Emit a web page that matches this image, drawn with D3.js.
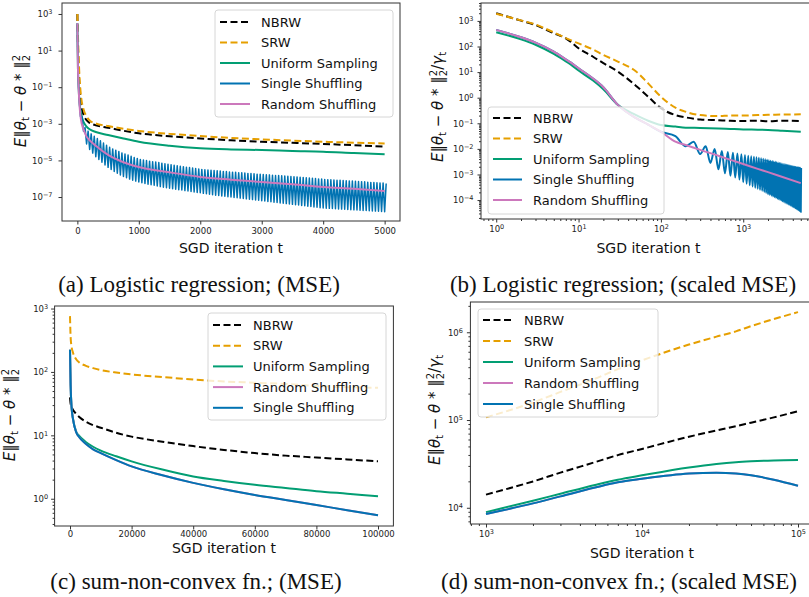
<!DOCTYPE html>
<html><head><meta charset="utf-8">
<script src="https://cdnjs.cloudflare.com/ajax/libs/d3/7.8.5/d3.min.js"></script>
<style>body{margin:0;background:#fff}svg{display:block}</style>
</head><body>
<svg id="c" width="809" height="597"></svg>
<script>
// ---------- DATA (values are log10 of the plotted quantity) ----------
const seriesNames = ["NBRW","SRW","Uniform Sampling","Single Shuffling","Random Shuffling"];
const captions = ["(a) Logistic regression; (MSE)","(b) Logistic regression; (scaled MSE)","(c) sum-non-convex fn.; (MSE)","(d) sum-non-convex fn.; (scaled MSE)"];

// (a) logistic regression, MSE
const tA    = [0,5,10,20,40,60,100,150,200,300,500,750,1000,1500,2000,2500,3000,3500,4000,4500,5000];
const nbrwA = [3.0,2.0,1.2,0.0,-1.2,-1.9,-2.5,-2.8,-2.95,-3.08,-3.21,-3.38,-3.52,-3.68,-3.8,-3.9,-3.98,-4.04,-4.1,-4.17,-4.25];
const srwA  = [3.0,2.4,1.8,0.7,-0.7,-1.5,-2.2,-2.6,-2.82,-2.98,-3.12,-3.27,-3.39,-3.55,-3.67,-3.77,-3.85,-3.92,-3.98,-4.03,-4.07];
const usA   = [2.5,1.0,0.0,-1.0,-2.0,-2.45,-2.9,-3.15,-3.3,-3.45,-3.61,-3.8,-3.98,-4.2,-4.34,-4.4,-4.43,-4.48,-4.52,-4.6,-4.67];
const rsA   = [2.5,1.0,0.0,-1.0,-2.2,-2.8,-3.3,-3.7,-3.9,-4.2,-4.7,-5.1,-5.36,-5.65,-5.9,-6.05,-6.18,-6.3,-6.45,-6.55,-6.67];
const epochA = 50;
const ssHiA = [-2.6,-3.2,-3.4,-3.55,-3.68,-3.8,-3.93,-4.05,-4.17,-4.28,
  -4.37,-4.44,-4.51,-4.59,-4.65,-4.71,-4.77,-4.84,-4.89,-4.95,
  -4.98,-5.01,-5.04,-5.07,-5.09,-5.12,-5.15,-5.18,-5.21,-5.24,
  -5.27,-5.29,-5.32,-5.34,-5.37,-5.39,-5.42,-5.44,-5.47,-5.49,
  -5.51,-5.52,-5.54,-5.55,-5.57,-5.58,-5.6,-5.61,-5.63,-5.64,
  -5.65,-5.67,-5.68,-5.69,-5.71,-5.72,-5.73,-5.75,-5.76,-5.77,
  -5.78,-5.79,-5.81,-5.82,-5.83,-5.84,-5.85,-5.87,-5.88,-5.89,
  -5.9,-5.92,-5.93,-5.95,-5.96,-5.98,-5.99,-6.01,-6.02,-6.04,
  -6.05,-6.06,-6.07,-6.08,-6.09,-6.1,-6.11,-6.12,-6.13,-6.14,
  -6.15,-6.16,-6.17,-6.19,-6.2,-6.21,-6.22,-6.23,-6.24,-6.26];
const ssLoA = [-2.6,-3.4,-4.1,-4.4,-4.6,-4.8,-4.95,-5.1,-5.25,-5.38,
  -5.5,-5.6,-5.7,-5.8,-5.88,-5.95,-6.02,-6.08,-6.13,-6.18,
  -6.22,-6.26,-6.3,-6.33,-6.36,-6.4,-6.43,-6.46,-6.49,-6.52,
  -6.55,-6.57,-6.6,-6.62,-6.65,-6.67,-6.7,-6.72,-6.75,-6.77,
  -6.8,-6.82,-6.85,-6.87,-6.9,-6.92,-6.94,-6.96,-6.98,-7.0,
  -7.02,-7.04,-7.06,-7.08,-7.1,-7.12,-7.14,-7.16,-7.18,-7.2,
  -7.22,-7.24,-7.26,-7.28,-7.3,-7.32,-7.34,-7.36,-7.38,-7.4,
  -7.42,-7.44,-7.46,-7.48,-7.5,-7.52,-7.54,-7.56,-7.58,-7.6,
  -7.61,-7.62,-7.63,-7.64,-7.65,-7.66,-7.67,-7.68,-7.69,-7.7,
  -7.71,-7.72,-7.73,-7.74,-7.75,-7.76,-7.77,-7.78,-7.79,-7.8];

// (b) logistic regression, scaled MSE
const tB    = [1,2,3,5,7,8,10,15,20,30,50,70,100,150,200,300,500,700,1000,1500,2000,3000,5000];
const nbrwB = [3.3,3.01,2.84,2.52,2.32,2.19,1.93,1.6,1.35,1.02,0.46,0.04,-0.41,-0.68,-0.77,-0.85,-0.88,-0.9,-0.91,-0.9,-0.92,-0.9,-0.91];
const srwB  = [3.28,3.02,2.86,2.55,2.33,2.25,2.12,1.88,1.67,1.41,1.02,0.56,0.04,-0.39,-0.55,-0.68,-0.72,-0.7,-0.7,-0.68,-0.67,-0.66,-0.65];
const usB   = [2.56,2.28,2.07,1.71,1.42,1.3,1.06,0.67,0.33,-0.28,-0.68,-0.9,-1.07,-1.13,-1.17,-1.18,-1.2,-1.22,-1.24,-1.25,-1.26,-1.29,-1.33];
const rsB   = [2.65,2.36,2.15,1.8,1.5,1.38,1.15,0.75,0.41,-0.28,-0.8,-1.05,-1.33,-1.72,-1.85,-2.04,-2.27,-2.43,-2.59,-2.78,-2.91,-3.1,-3.34];
const epochB = 100;
const ssHiB = [-1.5,-1.72,-1.9,-2.0,-2.08,-2.12,-2.15,-2.18,-2.21,-2.24,
  -2.27,-2.29,-2.31,-2.33,-2.35,-2.37,-2.39,-2.41,-2.42,-2.44,
  -2.46,-2.47,-2.49,-2.5,-2.52,-2.53,-2.55,-2.56,-2.57,-2.59,
  -2.6,-2.61,-2.62,-2.63,-2.64,-2.65,-2.66,-2.67,-2.68,-2.69,
  -2.7,-2.7,-2.71,-2.72,-2.72,-2.73,-2.73,-2.74,-2.74,-2.75];
const ssLoB = [-1.33,-1.9,-2.2,-2.55,-2.8,-2.95,-3.05,-3.12,-3.2,-3.3,
  -3.36,-3.42,-3.47,-3.52,-3.56,-3.6,-3.64,-3.68,-3.72,-3.77,
  -3.8,-3.83,-3.86,-3.89,-3.92,-3.95,-3.97,-4.0,-4.02,-4.05,
  -4.07,-4.1,-4.12,-4.14,-4.16,-4.18,-4.2,-4.22,-4.24,-4.26,
  -4.28,-4.3,-4.32,-4.34,-4.36,-4.38,-4.4,-4.42,-4.44,-4.47];

// (c) sum-non-convex, MSE
const tC    = [0,200,500,1000,2000,3000,5000,7500,10000,15000,20000,30000,40000,50000,60000,70000,80000,90000,100000];
const nbrwC = [1.6,1.5,1.45,1.4,1.34,1.29,1.22,1.16,1.12,1.04,0.98,0.9,0.83,0.77,0.72,0.68,0.65,0.62,0.59];
const srwC  = [2.88,2.55,2.4,2.3,2.2,2.15,2.1,2.06,2.03,1.99,1.96,1.92,1.88,1.85,1.83,1.81,1.78,1.76,1.75];
const usC   = [2.35,1.8,1.45,1.25,1.06,0.99,0.9,0.82,0.76,0.67,0.59,0.46,0.35,0.28,0.22,0.17,0.12,0.08,0.04];
const rsC   = [2.35,1.8,1.45,1.25,1.05,0.97,0.87,0.78,0.72,0.61,0.51,0.37,0.25,0.15,0.06,-0.02,-0.1,-0.18,-0.26];
const ssC   = [2.35,1.8,1.45,1.25,1.05,0.97,0.87,0.78,0.72,0.61,0.51,0.37,0.25,0.15,0.06,-0.02,-0.1,-0.18,-0.26];

// (d) sum-non-convex, scaled MSE
const tD    = [1000,2000,3000,5000,7000,10000,20000,30000,40000,50000,70000,100000];
const srwD  = [5.03,5.2,5.32,5.47,5.58,5.68,5.86,5.95,6.01,6.07,6.15,6.23];
const nbrwD = [4.15,4.3,4.4,4.52,4.6,4.67,4.81,4.88,4.93,4.97,5.03,5.1];
const usD   = [3.95,4.08,4.16,4.26,4.32,4.37,4.46,4.5,4.52,4.53,4.54,4.545];
const rsD   = [3.93,4.05,4.13,4.23,4.29,4.33,4.39,4.4,4.39,4.37,4.32,4.25];
const ssD   = [3.93,4.05,4.13,4.23,4.29,4.33,4.39,4.4,4.39,4.37,4.32,4.25];

// tick values
const xTicksA = [0,1000,2000,3000,4000,5000];
const yExpA = [-7,-5,-3,-1,1,3];
const xExpB = [0,1,2,3];
const yExpB = [-4,-3,-2,-1,0,1,2,3];
const xTicksC = [0,20000,40000,60000,80000,100000];
const yExpC = [0,1,2,3];
const xExpD = [3,4,5];
const yExpD = [4,5,6];

// ---------- DRAWING ----------
const svg = d3.select("#c");
const COL = {NBRW:"#000000", SRW:"#E69F00", US:"#029E73", SS:"#0173B2", RS:"#CC78BC"};
const FONT = "DejaVu Sans, sans-serif";

const pts = (t, v) => t.map((d,i)=>[d, Math.pow(10, v[i])]);
function shufflePts(t, rs, epoch, hi, lo){
  const p = [];
  t.forEach((d,i)=>{ if (d < epoch) p.push([d, Math.pow(10, rs[i])]); });
  hi.forEach((h,k)=>{
    const t0 = epoch*(k+1);
    p.push([t0, Math.pow(10, lo[k])]);
    p.push([t0 + epoch/2, Math.pow(10, h)]);
  });
  return p;
}
function minorTicks(lo, hi){
  const out=[];
  for(let e=Math.floor(lo); e<=Math.ceil(hi); e++){
    for(let m=2;m<=9;m++){ const v=m*Math.pow(10,e); const l=Math.log10(v); if(l>=lo&&l<=hi) out.push(v);}
  }
  return out;
}
function supText(sel, exp){
  sel.each(function(){
    const t = d3.select(this); const e = exp(this); t.text("");
    t.append("tspan").text("10");
    t.append("tspan").attr("dy","-0.45em").style("font-size","6.5px").text(e<0 ? "\u2212"+(-e) : e);
  });
}

function yLabel(g, cx, cy, scaled){
  const t = g.append("text").attr("transform",`translate(${cx},${cy}) rotate(-90)`)
    .attr("text-anchor","middle").style("font-family",FONT).style("font-size","15px").attr("fill","#111");
  t.append("tspan").style("font-style","italic").text("E");
  t.append("tspan").text("\u2016");
  t.append("tspan").style("font-style","italic").text("\u03b8");
  t.append("tspan").attr("dy",3).style("font-size","10px").text("t");
  t.append("tspan").attr("dy",-3).text(" \u2212 ");
  t.append("tspan").style("font-style","italic").text("\u03b8");
  t.append("tspan").text(" * \u2016");
  t.append("tspan").attr("dy",-6).style("font-size","10px").text("2");
  t.append("tspan").attr("dx",-6.4).attr("dy",10).style("font-size","10px").text("2");
  if(scaled){
    t.append("tspan").attr("dy",-4).text("/");
    t.append("tspan").style("font-style","italic").text("\u03b3");
    t.append("tspan").attr("dy",3).style("font-size","10px").text("t");
  }
}

function panel(cfg){
  const g = svg.append("g");
  const x = (cfg.xlog ? d3.scaleLog() : d3.scaleLinear()).domain(cfg.xd).range(cfg.xr);
  const y = d3.scaleLog().domain(cfg.yd).range(cfg.yr);
  const id = "clip" + cfg.id;
  svg.append("clipPath").attr("id", id).append("rect")
    .attr("x", cfg.xr[0]).attr("y", cfg.yr[1])
    .attr("width", cfg.xr[1]-cfg.xr[0]).attr("height", cfg.yr[0]-cfg.yr[1]);
  const plot = g.append("g").attr("clip-path", `url(#${id})`);
  cfg.series.forEach(s=>{
    const line = d3.line().x(d=>x(d[0])).y(d=>y(d[1])).curve(s.curve || d3.curveLinear);
    plot.append("path").attr("d", line(s.pts)).attr("fill","none")
      .attr("stroke", s.color).attr("stroke-width", s.w || 2)
      .attr("stroke-dasharray", s.dash ? "7,3.5" : null)
      .attr("stroke-linejoin","round");
  });
  // axes
  const xa = d3.axisBottom(x).tickValues(cfg.xt).tickSize(3.5).tickSizeOuter(0).tickPadding(cfg.xpad || 3);
  const ya = d3.axisLeft(y).tickValues(cfg.yt).tickSize(3.5).tickSizeOuter(0).tickPadding(cfg.ypad || 4);
  const gx = g.append("g").attr("transform",`translate(0,${cfg.yr[0]})`).call(xa);
  const gy = g.append("g").attr("transform",`translate(${cfg.xr[0]},0)`).call(ya);
  [gx, gy].forEach(a=>{
    a.select(".domain").remove();
    a.selectAll("line").attr("stroke","#333");
    a.selectAll("text").style("font-family",FONT).style("font-size","8.5px").attr("fill","#222");
  });
  if (cfg.xlog) supText(gx.selectAll("text"), n=>Math.round(Math.log10(d3.select(n).datum())));
  else gx.selectAll("text").text(d=>d);
  supText(gy.selectAll("text"), n=>Math.round(Math.log10(d3.select(n).datum())));
  if (cfg.xminor){
    const m = g.append("g").attr("transform",`translate(0,${cfg.yr[0]})`)
      .call(d3.axisBottom(x).tickValues(cfg.xminor).tickSize(2).tickFormat(""));
    m.select(".domain").remove(); m.selectAll("line").attr("stroke","#333");
  }
  if (cfg.yminor){
    const m = g.append("g").attr("transform",`translate(${cfg.xr[0]},0)`)
      .call(d3.axisLeft(y).tickValues(cfg.yminor).tickSize(2).tickFormat(""));
    m.select(".domain").remove(); m.selectAll("line").attr("stroke","#333");
  }
  // frame
  g.append("rect").attr("x",cfg.xr[0]).attr("y",cfg.yr[1])
    .attr("width",cfg.xr[1]-cfg.xr[0]).attr("height",cfg.yr[0]-cfg.yr[1])
    .attr("fill","none").attr("stroke","#333").attr("stroke-width",1);
  // x label
  g.append("text").attr("x",(cfg.xr[0]+cfg.xr[1])/2).attr("y",cfg.xlabY).attr("text-anchor","middle")
    .style("font-family",FONT).style("font-size","14px").attr("fill","#111").text("SGD iteration t");
  yLabel(g, cfg.ylabX, cfg.ylabY, cfg.scaled);
  // legend
  const L = cfg.legend;
  const lg = g.append("g");
  lg.append("rect").attr("x",L.x0).attr("y",L.y0).attr("width",L.x1-L.x0).attr("height",L.y1-L.y0)
    .attr("rx",3).attr("fill","#fff").attr("fill-opacity",0.8).attr("stroke","#d6d6d6").attr("stroke-width",1);
  L.rows.forEach((r,i)=>{
    const yy = L.r0 + i*L.dy;
    lg.append("line").attr("x1",L.h0).attr("x2",L.h1).attr("y1",yy).attr("y2",yy)
      .attr("stroke",r.color).attr("stroke-width",2).attr("stroke-dasharray", r.dash ? "7,3.5" : null);
    lg.append("text").attr("x",L.tx).attr("y",yy).attr("dy","0.36em")
      .style("font-family",FONT).style("font-size","13px").attr("fill","#111").text(r.name);
  });
  // caption
  svg.append("text").attr("x",cfg.capX).attr("y",cfg.capY).attr("text-anchor","middle")
    .style("font-family","Liberation Serif, Times New Roman, serif").style("font-size","23px")
    .attr("fill","#111").text(cfg.caption);
}

const S = {
  NBRW:{name:seriesNames[0], color:COL.NBRW, dash:true},
  SRW:{name:seriesNames[1], color:COL.SRW, dash:true},
  US:{name:seriesNames[2], color:COL.US},
  SS:{name:seriesNames[3], color:COL.SS},
  RS:{name:seriesNames[4], color:COL.RS}
};
const MX = d3.curveMonotoneX;

// (a)
panel({
  id:"a", xlog:false, xd:[-250,5250], xr:[62,400], yd:[Math.pow(10,-8.31),Math.pow(10,3.6)], yr:[221,3],
  xt:xTicksA, yt:yExpA.map(e=>Math.pow(10,e)), ypad:6,
  series:[
    {pts:pts(tA,nbrwA), color:COL.NBRW, dash:true, curve:MX},
    {pts:pts(tA,srwA), color:COL.SRW, dash:true, curve:MX},
    {pts:pts(tA,usA), color:COL.US, curve:MX},
    {pts:shufflePts(tA,rsA,epochA,ssHiA,ssLoA), color:COL.SS, w:1.5},
    {pts:pts(tA,rsA), color:COL.RS, curve:MX}
  ],
  xlabY:253, ylabX:26, ylabY:101, scaled:false,
  legend:{x0:215,x1:393,y0:10,y1:117,r0:22,dy:20.5,h0:220,h1:250,tx:261,rows:[S.NBRW,S.SRW,S.US,S.SS,S.RS]},
  caption:captions[0], capX:199, capY:292
});
// (b)
panel({
  id:"b", xlog:true, xd:[Math.pow(10,-0.185),Math.pow(10,3.884)], xr:[481,816],
  yd:[Math.pow(10,-4.74),Math.pow(10,3.70)], yr:[219,3],
  xt:xExpB.map(e=>Math.pow(10,e)), yt:yExpB.map(e=>Math.pow(10,e)), ypad:4,
  xminor:minorTicks(-0.185,3.884), yminor:minorTicks(-4.74,3.70),
  series:[
    {pts:pts(tB,nbrwB), color:COL.NBRW, dash:true, curve:MX},
    {pts:pts(tB,srwB), color:COL.SRW, dash:true, curve:MX},
    {pts:pts(tB,usB), color:COL.US, curve:MX},
    {pts:shufflePts(tB,rsB,epochB,ssHiB,ssLoB), color:COL.SS, w:2, curve:MX},
    {pts:pts(tB,rsB), color:COL.RS, curve:MX}
  ],
  xlabY:253, ylabX:443, ylabY:107, scaled:true,
  legend:{x0:488,x1:664,y0:107,y1:214,r0:118,dy:20.5,h0:493,h1:522,tx:533,rows:[S.NBRW,S.SRW,S.US,S.SS,S.RS]},
  caption:captions[1], capX:623, capY:292
});
// (c)
panel({
  id:"c", xlog:false, xd:[-5000,105000], xr:[54.6,393.4], yd:[Math.pow(10,-0.43),Math.pow(10,3.04)], yr:[526,306],
  xt:xTicksC, yt:yExpC.map(e=>Math.pow(10,e)), ypad:3, xpad:1.5, yminor:minorTicks(-0.43,3.04),
  series:[
    {pts:pts(tC,nbrwC), color:COL.NBRW, dash:true, curve:MX},
    {pts:pts(tC,srwC), color:COL.SRW, dash:true, curve:MX},
    {pts:pts(tC,usC), color:COL.US, curve:MX},
    {pts:pts(tC,rsC), color:COL.RS, curve:MX},
    {pts:pts(tC,ssC), color:COL.SS, curve:MX}
  ],
  xlabY:553, ylabX:15, ylabY:415, scaled:false,
  legend:{x0:208,x1:386,y0:313,y1:420,r0:325,dy:20.7,h0:213,h1:243,tx:253,rows:[S.NBRW,S.SRW,S.US,S.RS,S.SS]},
  caption:captions[2], capX:196, capY:589
});
// (d)
panel({
  id:"d", xlog:true, xd:[Math.pow(10,2.9),Math.pow(10,5.1)], xr:[470.4,813.6],
  yd:[Math.pow(10,3.815),Math.pow(10,6.345)], yr:[524,302],
  xt:xExpD.map(e=>Math.pow(10,e)), yt:yExpD.map(e=>Math.pow(10,e)), ypad:4,
  xminor:minorTicks(2.9,5.1), yminor:minorTicks(3.815,6.345),
  series:[
    {pts:pts(tD,nbrwD), color:COL.NBRW, dash:true, curve:MX},
    {pts:pts(tD,srwD), color:COL.SRW, dash:true, curve:MX},
    {pts:pts(tD,usD), color:COL.US, curve:MX},
    {pts:pts(tD,rsD), color:COL.RS, curve:MX},
    {pts:pts(tD,ssD), color:COL.SS, curve:MX}
  ],
  xlabY:558, ylabX:440, ylabY:410, scaled:true,
  legend:{x0:478,x1:658,y0:309,y1:417,r0:320,dy:21,h0:483,h1:513,tx:524,rows:[S.NBRW,S.SRW,S.US,S.RS,S.SS]},
  caption:captions[3], capX:619, capY:589
});
</script>
</body></html>
